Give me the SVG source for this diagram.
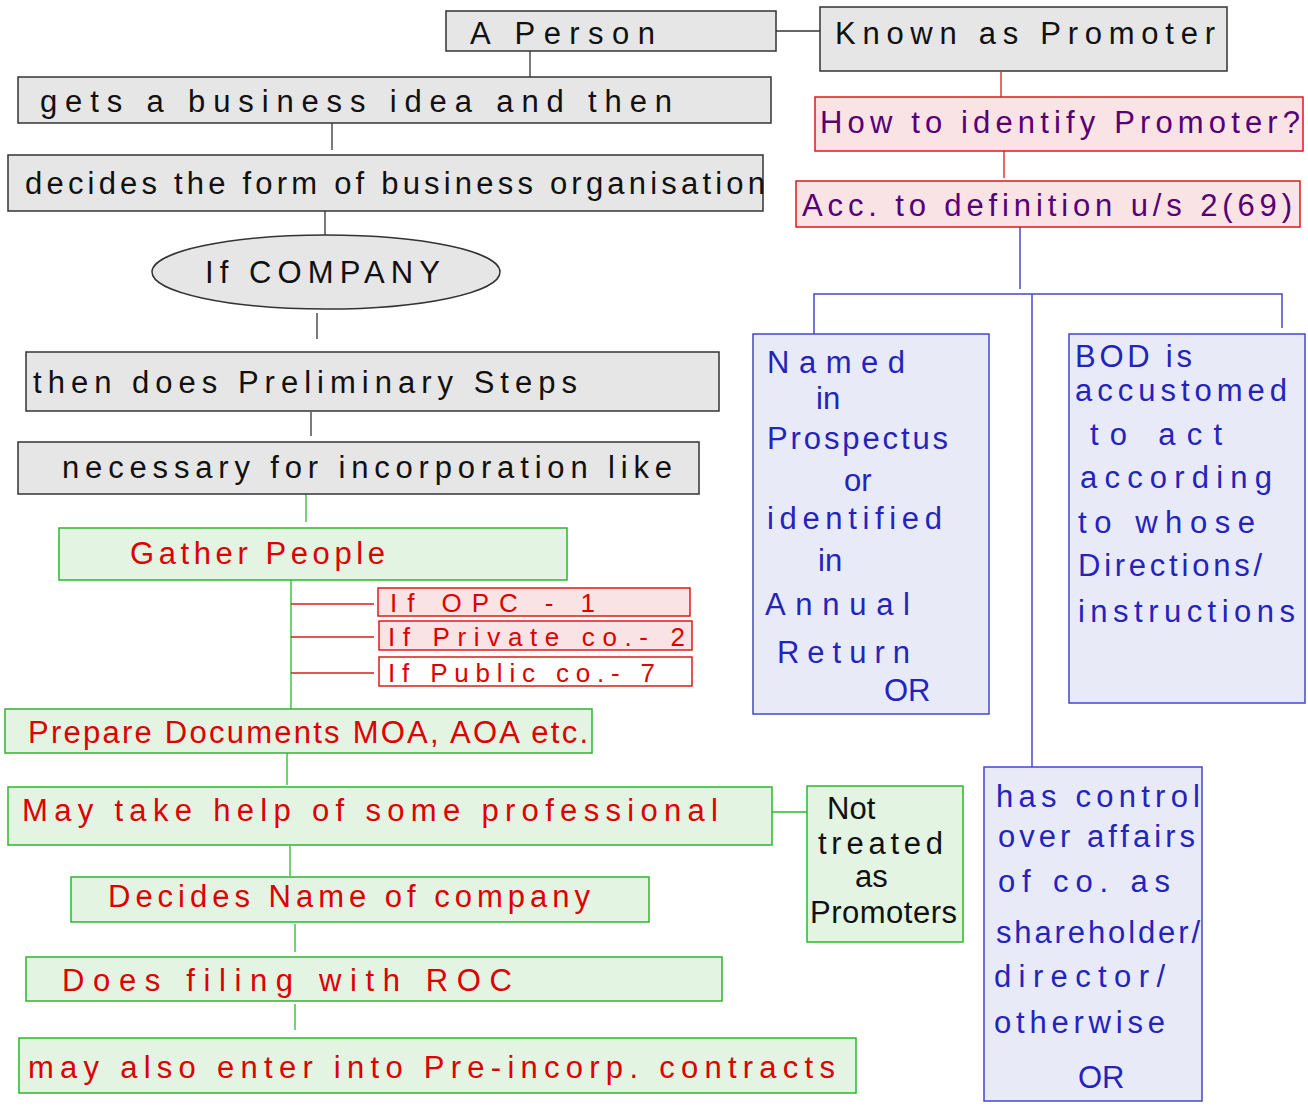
<svg xmlns="http://www.w3.org/2000/svg" width="1308" height="1118" viewBox="0 0 1308 1118">
<style>
text{font-family:"Liberation Sans","DejaVu Sans",sans-serif;font-size:31px;}
.g{fill:#e6e6e6;stroke:#333;stroke-width:1.5;}
.gt{fill:#111;}
.gr{fill:#e3f4e3;stroke:#2ab82a;stroke-width:1.5;}
.rt{fill:#dd0000;}
.pk{fill:#f9e3e5;stroke:#dd1a1a;stroke-width:1.5;}
.pkw{fill:#ffffff;stroke:#dd1a1a;stroke-width:1.5;}
.pt{fill:#550077;}
.bl{fill:#e8eaf8;stroke:#4646cc;stroke-width:1.5;}
.bt{fill:#2424bb;}
.cb{stroke:#333;stroke-width:1.3;fill:none;}
.cg{stroke:#2ab82a;stroke-width:1.3;fill:none;}
.cr{stroke:#dd1a1a;stroke-width:1.3;fill:none;}
.cu{stroke:#4646cc;stroke-width:1.5;fill:none;}
.sm{font-size:26px;}
</style>
<rect width="1308" height="1118" fill="#ffffff"/>
<g id="connectors">
<line class="cb" x1="776" y1="31" x2="820" y2="31"/>
<line class="cb" x1="530" y1="51" x2="530" y2="77"/>
<line class="cb" x1="332" y1="123" x2="332" y2="150"/>
<line class="cb" x1="325" y1="211" x2="325" y2="235"/>
<line class="cb" x1="317" y1="313" x2="317" y2="339"/>
<line class="cb" x1="311" y1="412" x2="311" y2="436"/>
<line class="cg" x1="306" y1="494" x2="306" y2="522"/>
<line class="cg" x1="291" y1="580" x2="291" y2="709"/>
<line class="cr" x1="291" y1="604" x2="374" y2="604"/>
<line class="cr" x1="291" y1="637" x2="374" y2="637"/>
<line class="cr" x1="291" y1="673" x2="374" y2="673"/>
<line class="cg" x1="287" y1="753" x2="287" y2="785"/>
<line class="cg" x1="772" y1="812" x2="807" y2="812"/>
<line class="cg" x1="290" y1="846" x2="290" y2="876"/>
<line class="cg" x1="295" y1="924" x2="295" y2="952"/>
<line class="cg" x1="295" y1="1004" x2="295" y2="1030"/>
<line class="cr" x1="1001" y1="72" x2="1001" y2="97"/>
<line class="cr" x1="1004" y1="151" x2="1004" y2="178"/>
<line class="cu" x1="1020" y1="227" x2="1020" y2="289"/>
<polyline class="cu" points="814,334 814,294 1282,294 1282,328"/>
<line class="cu" x1="1032" y1="294" x2="1032" y2="767"/>
</g>
<g id="n-person">
<rect class="g" x="446" y="11" width="330" height="40"/>
<text class="gt" x="470" y="44" textLength="185" lengthAdjust="spacing">A Person</text>
</g>
<g id="n-known">
<rect class="g" x="820" y="7" width="407" height="64"/>
<text class="gt" x="835" y="44" textLength="380" lengthAdjust="spacing">Known as Promoter</text>
</g>
<g id="n-idea">
<rect class="g" x="18" y="77" width="753" height="46"/>
<text class="gt" x="40" y="112" textLength="632" lengthAdjust="spacing">gets a business idea and then</text>
</g>
<g id="n-form">
<rect class="g" x="8" y="155" width="755" height="56"/>
<text class="gt" x="25" y="194" textLength="740" lengthAdjust="spacing">decides the form of business organisation</text>
</g>
<g id="n-company">
<ellipse class="g" cx="326" cy="272" rx="174" ry="37"/>
<text class="gt" x="205" y="283" textLength="235" lengthAdjust="spacing">If COMPANY</text>
</g>
<g id="n-prelim">
<rect class="g" x="26" y="352" width="693" height="59"/>
<text class="gt" x="33" y="393" textLength="544" lengthAdjust="spacing">then does Preliminary Steps</text>
</g>
<g id="n-necessary">
<rect class="g" x="18" y="442" width="681" height="52"/>
<text class="gt" x="62" y="478" textLength="610" lengthAdjust="spacing">necessary for incorporation like</text>
</g>
<g id="n-gather">
<rect class="gr" x="59" y="528" width="508" height="52"/>
<text class="rt" x="130" y="564" textLength="255" lengthAdjust="spacing">Gather People</text>
</g>
<g id="n-opc">
<rect class="pk" x="378" y="588" width="312" height="28"/>
<text class="rt sm" x="390" y="612" textLength="205" lengthAdjust="spacing">If OPC - 1</text>
</g>
<g id="n-private">
<rect class="pk" x="379" y="621" width="313" height="29"/>
<text class="rt sm" x="388" y="646" textLength="297" lengthAdjust="spacing">If Private co.- 2</text>
</g>
<g id="n-public">
<rect class="pkw" x="379" y="657" width="313" height="29"/>
<text class="rt sm" x="388" y="682" textLength="267" lengthAdjust="spacing">If Public co.- 7</text>
</g>
<g id="n-docs">
<rect class="gr" x="5" y="709" width="587" height="44"/>
<text class="rt" x="28" y="743" textLength="560" lengthAdjust="spacing">Prepare Documents MOA, AOA etc.</text>
</g>
<g id="n-help">
<rect class="gr" x="8" y="787" width="764" height="58"/>
<text class="rt" x="22" y="821" textLength="696" lengthAdjust="spacing">May take help of some professional</text>
</g>
<g id="n-not">
<rect class="gr" x="807" y="786" width="156" height="156"/>
<text class="gt" x="827" y="819">Not</text>
<text class="gt" x="818" y="854" textLength="125" lengthAdjust="spacing">treated</text>
<text class="gt" x="855" y="887">as</text>
<text class="gt" x="810" y="923" textLength="147" lengthAdjust="spacing">Promoters</text>
</g>
<g id="n-name">
<rect class="gr" x="71" y="877" width="578" height="45"/>
<text class="rt" x="108" y="907" textLength="482" lengthAdjust="spacing">Decides Name of company</text>
</g>
<g id="n-filing">
<rect class="gr" x="26" y="957" width="696" height="44"/>
<text class="rt" x="62" y="991" textLength="450" lengthAdjust="spacing">Does filing with ROC</text>
</g>
<g id="n-contracts">
<rect class="gr" x="19" y="1038" width="837" height="55"/>
<text class="rt" x="28" y="1078" textLength="807" lengthAdjust="spacing">may also enter into Pre-incorp. contracts</text>
</g>
<g id="n-how">
<rect class="pk" x="815" y="97" width="488" height="54"/>
<text class="pt" x="820" y="133" textLength="480" lengthAdjust="spacing">How to identify Promoter?</text>
</g>
<g id="n-acc">
<rect class="pk" x="796" y="181" width="504" height="46"/>
<text class="pt" x="802" y="216" textLength="490" lengthAdjust="spacing">Acc. to definition u/s 2(69)</text>
</g>
<g id="n-named">
<rect class="bl" x="753" y="334" width="236" height="380"/>
<text class="bt" x="767" y="373" textLength="138" lengthAdjust="spacing">Named</text>
<text class="bt" x="816" y="409">in</text>
<text class="bt" x="767" y="449" textLength="181" lengthAdjust="spacing">Prospectus</text>
<text class="bt" x="844" y="491">or</text>
<text class="bt" x="767" y="529" textLength="175" lengthAdjust="spacing">identified</text>
<text class="bt" x="818" y="571">in</text>
<text class="bt" x="765" y="615" textLength="145" lengthAdjust="spacing">Annual</text>
<text class="bt" x="777" y="663" textLength="133" lengthAdjust="spacing">Return</text>
<text class="bt" x="884" y="701">OR</text>
</g>
<g id="n-bod">
<rect class="bl" x="1069" y="334" width="236" height="369"/>
<text class="bt" x="1075" y="367" textLength="117" lengthAdjust="spacing">BOD is</text>
<text class="bt" x="1075" y="401" textLength="212" lengthAdjust="spacing">accustomed</text>
<text class="bt" x="1090" y="445" textLength="132" lengthAdjust="spacing">to act</text>
<text class="bt" x="1080" y="488" textLength="192" lengthAdjust="spacing">according</text>
<text class="bt" x="1078" y="533" textLength="177" lengthAdjust="spacing">to whose</text>
<text class="bt" x="1078" y="576" textLength="184" lengthAdjust="spacing">Directions/</text>
<text class="bt" x="1078" y="622" textLength="217" lengthAdjust="spacing">instructions</text>
</g>
<g id="n-control">
<rect class="bl" x="984" y="767" width="218" height="334"/>
<text class="bt" x="996" y="807" textLength="204" lengthAdjust="spacing">has control</text>
<text class="bt" x="998" y="847" textLength="197" lengthAdjust="spacing">over affairs</text>
<text class="bt" x="998" y="892" textLength="172" lengthAdjust="spacing">of co. as</text>
<text class="bt" x="996" y="943" textLength="204" lengthAdjust="spacing">shareholder/</text>
<text class="bt" x="994" y="987" textLength="171" lengthAdjust="spacing">director/</text>
<text class="bt" x="994" y="1033" textLength="171" lengthAdjust="spacing">otherwise</text>
<text class="bt" x="1078" y="1088">OR</text>
</g>
</svg>
